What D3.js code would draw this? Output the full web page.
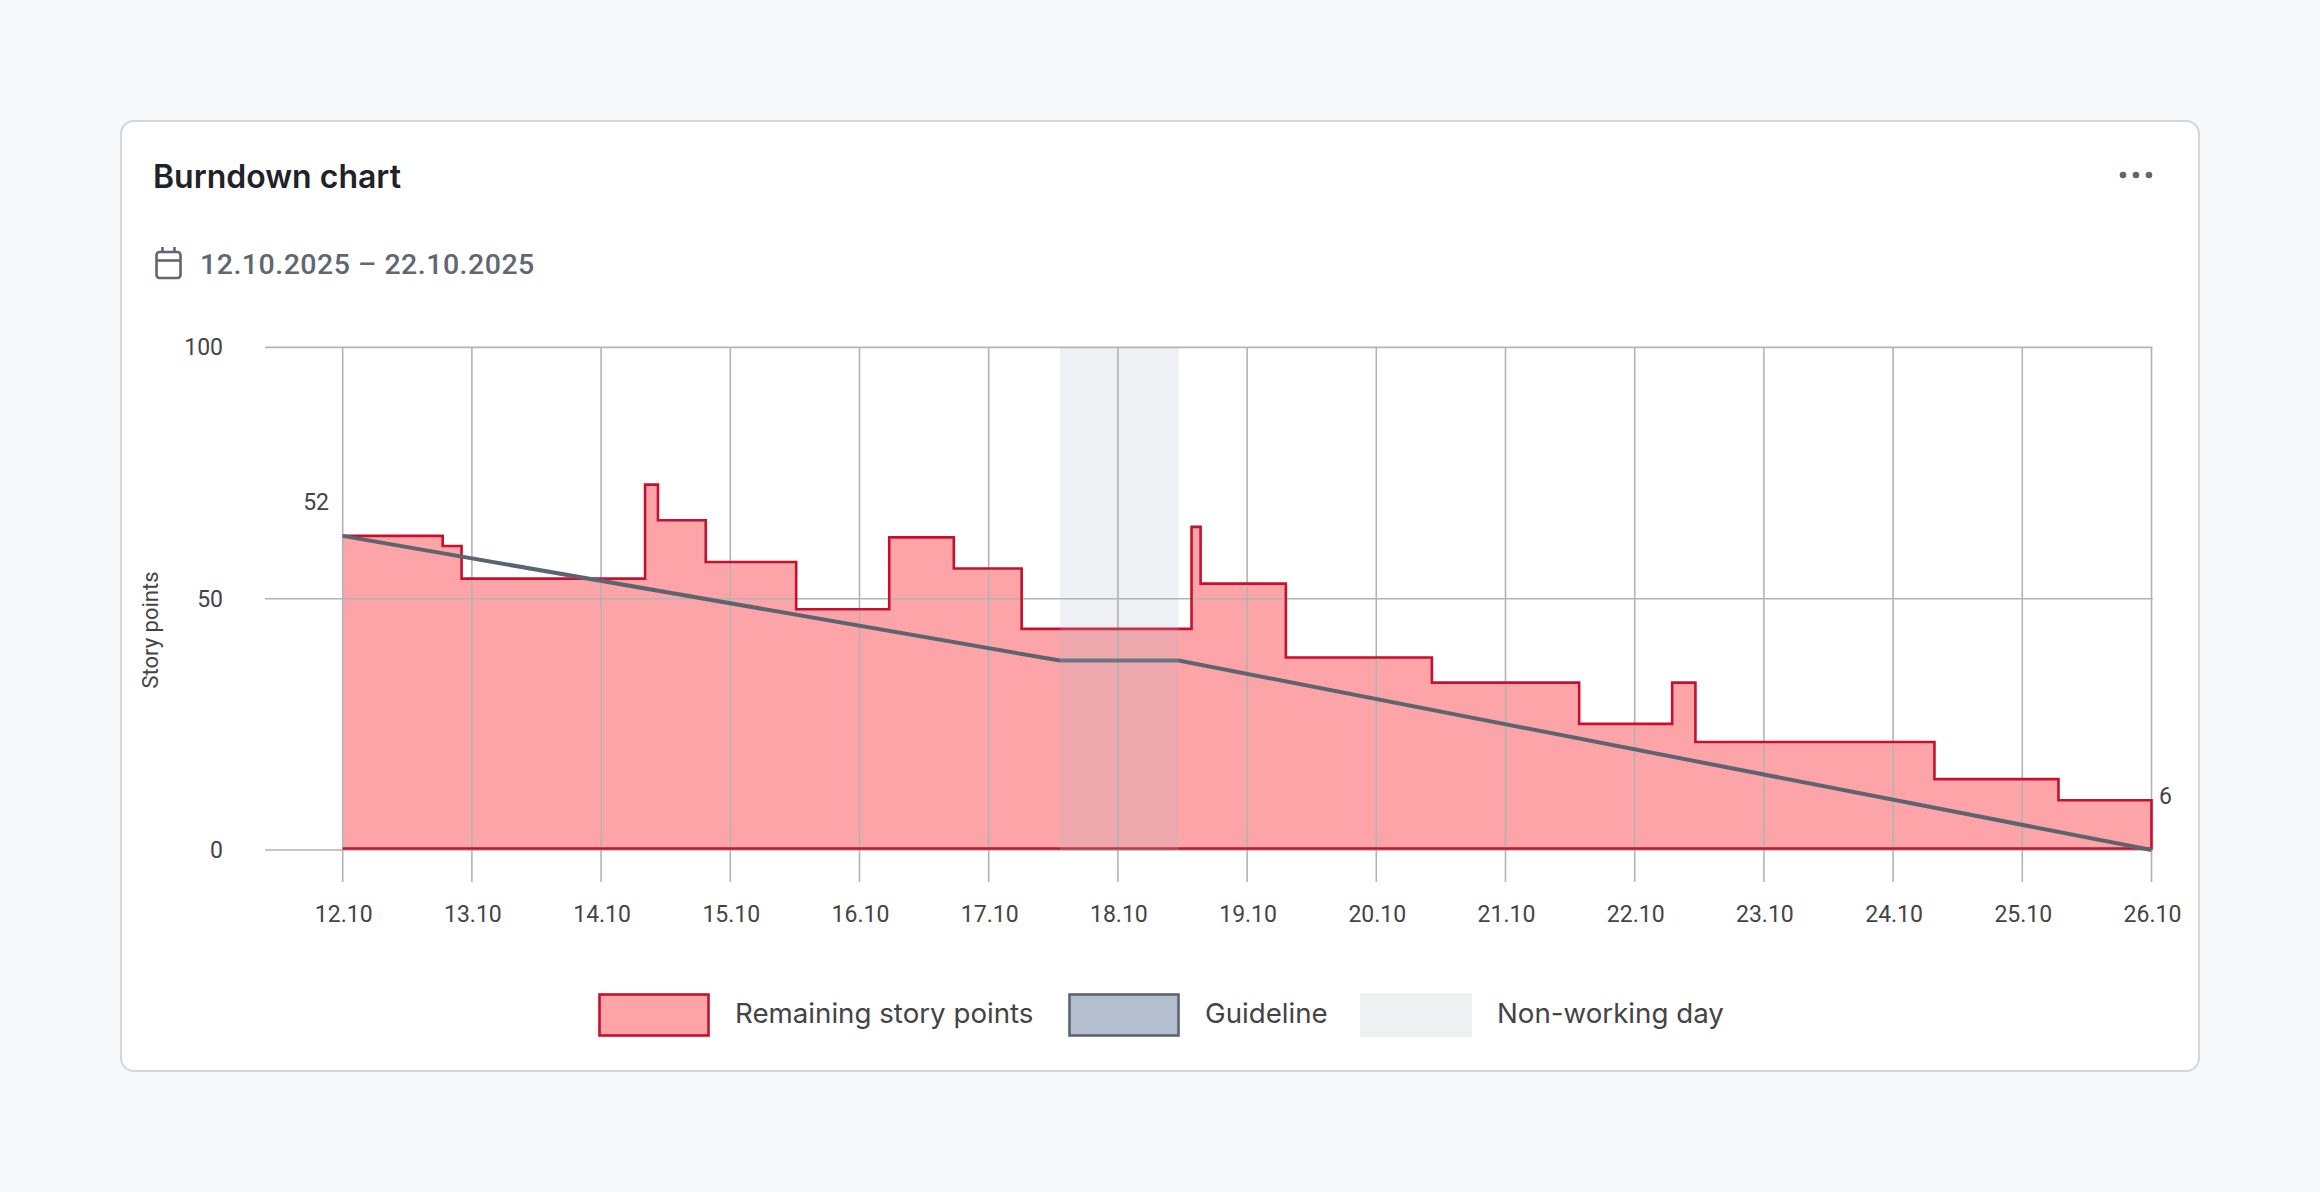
<!DOCTYPE html>
<html>
<head>
<meta charset="utf-8">
<script src="https://cdn.jsdelivr.net/npm/d3@7"></script>
<style>
  html, body { margin: 0; padding: 0; background: #f7f8fa; }
  svg { display: block; font-family: Roboto, "Noto Sans", sans-serif; }
  .ui { font-family: Inter, Roboto, sans-serif; }
</style>
</head>
<body>
<svg id="chart" width="2320" height="1192"></svg>
<script>
// ---- data ----
const dayLabels = ["12.10","13.10","14.10","15.10","16.10","17.10","18.10","19.10","20.10","21.10","22.10","23.10","24.10","25.10","26.10"];
const yTicks = [0, 50, 100];
// remaining story points (step series, day offset from 12.10)
const remainingDays   = [0, 0.774, 0.92, 2.34, 2.44, 2.81, 3.51, 4.23, 4.73, 5.255, 6.57, 6.64, 7.30, 8.43, 9.57, 10.29, 10.47, 12.32, 13.28, 14];
const remainingValues = [62.5, 60.5, 54.0, 72.7, 65.6, 57.3, 47.9, 62.2, 56.0, 44.0, 64.3, 53.0, 38.3, 33.3, 25.1, 33.3, 21.5, 14.1, 9.9, 9.9];
// guideline
const guideDays   = [0, 5.55, 6.47, 14];
const guideValues = [62.5, 37.7, 37.7, 0];
// non-working day band
const nonWorking = [5.55, 6.47];
// value labels
const startLabel = "52";
const endLabel = "6";
const legendItems = ["Remaining story points", "Guideline", "Non-working day"];

// ---- drawing ----
const svg = d3.select("#chart");

// card
svg.append("rect").attr("x", 121).attr("y", 121).attr("width", 2078).attr("height", 950)
  .attr("rx", 13).attr("fill", "#ffffff").attr("stroke", "#d3d8e0").attr("stroke-width", 2);

svg.append("text").attr("class", "ui").attr("x", 153).attr("y", 188).attr("font-size", 32).attr("font-weight", 600)
  .attr("fill", "#1f2329").text("Burndown chart");

[2123, 2136, 2149].forEach(cx => svg.append("circle").attr("cx", cx).attr("cy", 175).attr("r", 3.3).attr("fill", "#5f6670"));

// calendar icon
const cal = svg.append("g").attr("stroke", "#5f6670").attr("stroke-width", 2.6).attr("fill", "none");
cal.append("rect").attr("x", 156.5).attr("y", 252).attr("width", 24).attr("height", 26).attr("rx", 3);
cal.append("line").attr("x1", 156.5).attr("x2", 180.5).attr("y1", 260.5).attr("y2", 260.5);
cal.append("line").attr("x1", 162.5).attr("x2", 162.5).attr("y1", 247).attr("y2", 253);
cal.append("line").attr("x1", 174.5).attr("x2", 174.5).attr("y1", 247).attr("y2", 253);

svg.append("text").attr("x", 200).attr("y", 274).attr("font-size", 28.5).attr("font-weight", 500)
  .attr("letter-spacing", 0.5).attr("fill", "#5f6772").text("12.10.2025 – 22.10.2025");

// scales
const x = d3.scaleLinear().domain([0, 14]).range([342.7, 2151.5]);
const y = d3.scaleLinear().domain([0, 100]).range([850, 347.4]);

const remaining = remainingDays.map((d, i) => ({d, v: remainingValues[i]}));
const guide = guideDays.map((d, i) => ({d, v: guideValues[i]}));

// area fill
const area = d3.area().curve(d3.curveStepAfter).x(p => x(p.d)).y0(y(0) - 1).y1(p => y(p.v));
svg.append("path").datum(remaining).attr("d", area).attr("fill", "#fda4a8");

// gridlines
const grid = svg.append("g").attr("stroke", "#b3b3b3").attr("stroke-width", 1.6);
yTicks.forEach(t => grid.append("line").attr("x1", 265).attr("x2", x(14) + 1).attr("y1", y(t)).attr("y2", y(t)));
dayLabels.forEach((lab, i) => grid.append("line").attr("x1", x(i)).attr("x2", x(i)).attr("y1", y(100)).attr("y2", 882));

// outline (top steps, right edge, bottom)
const outlinePts = remaining.concat([{d: 14, v: 0}, {d: 0, v: 0}]);
const outline = d3.line().curve(d3.curveStepAfter).x(p => x(p.d)).y(p => p.v === 0 ? y(0) - 1.5 : y(p.v));
svg.append("path").datum(outlinePts).attr("d", outline).attr("fill", "none")
  .attr("stroke", "#c8102e").attr("stroke-width", 2.6).attr("stroke-linejoin", "miter");

// guideline
const gline = d3.line().x(p => x(p.d)).y(p => y(p.v));
svg.append("path").datum(guide).attr("d", gline).attr("fill", "none")
  .attr("stroke", "#5c6470").attr("stroke-width", 4);

// non-working band overlay
svg.append("rect").attr("x", x(nonWorking[0])).attr("width", x(nonWorking[1]) - x(nonWorking[0]))
  .attr("y", y(100)).attr("height", y(0) - y(100))
  .attr("fill", "rgb(179,183,198)").attr("fill-opacity", 0.21);

// axis labels
const yAxisG = svg.append("g").attr("font-size", 23).attr("fill", "#444");
yTicks.forEach(t => yAxisG.append("text").attr("x", 223).attr("y", y(t) + 8).attr("text-anchor", "end").text(t));
dayLabels.forEach((lab, i) => yAxisG.append("text").attr("x", x(i) + 1).attr("y", 922).attr("text-anchor", "middle").text(lab));

svg.append("text").attr("transform", "translate(158,630) rotate(-90)").attr("text-anchor", "middle")
  .attr("font-size", 22).attr("fill", "#444").text("Story points");

// value labels
svg.append("text").attr("x", 329).attr("y", 509.5).attr("text-anchor", "end").attr("font-size", 23).attr("fill", "#444").text(startLabel);
svg.append("text").attr("x", 2159).attr("y", 803.5).attr("font-size", 23).attr("fill", "#444").text(endLabel);

// legend
const leg = svg.append("g");
leg.append("rect").attr("x", 599.5).attr("y", 994.5).attr("width", 109).attr("height", 41)
  .attr("fill", "#fda4a8").attr("stroke", "#c8102e").attr("stroke-width", 2.6);
leg.append("rect").attr("x", 1069.5).attr("y", 994.5).attr("width", 109).attr("height", 41)
  .attr("fill", "#b3bfcf").attr("stroke", "#5c6470").attr("stroke-width", 2.6);
leg.append("rect").attr("x", 1360).attr("y", 993).attr("width", 112).attr("height", 44).attr("fill", "#eff0f2");
const legX = [735, 1205, 1497];
legendItems.forEach((t, i) => leg.append("text").attr("class", "ui").attr("x", legX[i]).attr("y", 1022.5).attr("font-size", 27.7)
  .attr("fill", "#444").text(t));
</script>
</body>
</html>
